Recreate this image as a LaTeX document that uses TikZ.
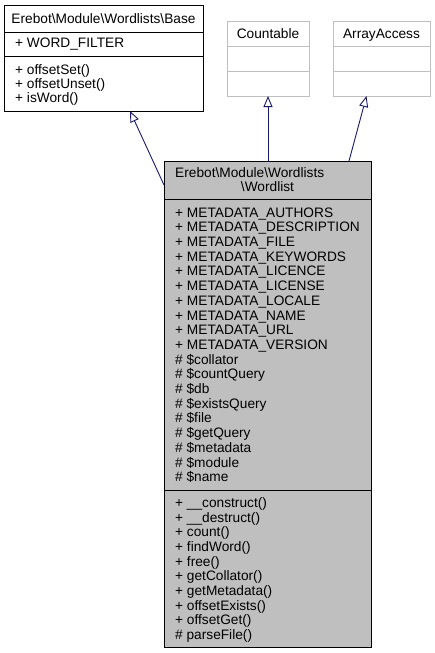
\documentclass[tikz,border=0pt]{standalone}
\usepackage{fontspec}
\setmainfont{Liberation Sans}
\usetikzlibrary{arrows.meta}
\definecolor{edgeblue}{HTML}{191970}
\definecolor{boxgrey}{HTML}{BFBFBF}
\definecolor{lightborder}{HTML}{BFBFBF}
\begin{document}
\begin{tikzpicture}[x=1pt,y=-1pt,
  cls/.style={draw=black, line width=1pt, fill=white, inner sep=0pt, outer sep=0pt, anchor=north west},
  iface/.style={cls, draw=lightborder},
  main/.style={cls, fill=boxgrey},
  sepline/.style={line width=1pt},
  txt/.style={anchor=base west, inner sep=0pt, font=\fontsize{13.7}{14.7}\selectfont},
  ctxt/.style={txt, anchor=base},
  inherit/.style={draw=edgeblue, line width=0.9pt, -{Triangle[open, fill=white, length=11pt, width=9pt]}}
]
\useasboundingbox (0,0) rectangle (435,653);

% Base
\node[cls, minimum width=199pt, minimum height=106pt] (base) at (4,5) {};
\draw[sepline] (4,32) -- (203,32);
\draw[sepline] (4,56) -- (203,56);
\node[ctxt] (bt) at (103.5,23.4) {Erebot\textbackslash Module\textbackslash Wordlists\textbackslash Base};
\node[txt] (ba) at (15,47.9) {+ WORD\_FILTER};
\foreach \t [count=\i] in {+ offsetSet(), + offsetUnset(), + isWord()}
  \node[txt] (bm\i) at (15,{69.5+(\i-1)*14+4.9}) {\t};

% Countable
\node[iface, minimum width=82pt, minimum height=75pt] (countable) at (227,21) {};
\draw[sepline, lightborder] (227,46) -- (309,46);
\draw[sepline, lightborder] (227,71) -- (309,71);
\node[ctxt] (ct) at (268,38.4) {Countable};

% ArrayAccess
\node[iface, minimum width=97pt, minimum height=75pt] (arrayaccess) at (333,21) {};
\draw[sepline, lightborder] (333,46) -- (430,46);
\draw[sepline, lightborder] (333,71) -- (430,71);
\node[ctxt] (at) at (381.5,38.4) {ArrayAccess};

% Wordlist
\node[main, minimum width=207pt, minimum height=486pt] (wl) at (164,161) {};
\draw[sepline] (164,199) -- (371,199);
\draw[sepline] (164,490) -- (371,490);
\node[txt] (wt1) at (175,177.9) {Erebot\textbackslash Module\textbackslash Wordlists};
\node[ctxt] (wt2) at (267.5,191.4) {\textbackslash Wordlist};
\foreach \t [count=\i] in {
  + METADATA\_AUTHORS, + METADATA\_DESCRIPTION, + METADATA\_FILE,
  + METADATA\_KEYWORDS, + METADATA\_LICENCE, + METADATA\_LICENSE,
  + METADATA\_LOCALE, + METADATA\_NAME, + METADATA\_URL,
  + METADATA\_VERSION, \# \$collator, \# \$countQuery, \# \$db,
  \# \$existsQuery, \# \$file, \# \$getQuery, \# \$metadata,
  \# \$module, \# \$name}
  \node[txt] (wa\i) at (175,{212.2+(\i-1)*14.7+4.9}) {\t};
\foreach \t [count=\i] in {
  + \_\_construct(), + \_\_destruct(), + count(), + findWord(),
  + free(), + getCollator(), + getMetadata(), + offsetExists(),
  + offsetGet(), \# parseFile()}
  \node[txt] (wm\i) at (175,{502.4+(\i-1)*14.7+4.9}) {\t};

% Inheritance connectors
\coordinate (baseTip) at (130,111);
\coordinate (wlLeft) at (164,185);
\coordinate (aaTip) at (366.5,96);
\coordinate (wlTopR) at (349,161);
\draw[inherit] (wlLeft) -- (baseTip);
\draw[inherit] (wl.north -| countable.south) -- (countable.south);
\draw[inherit] (wlTopR) -- (aaTip);
\end{tikzpicture}
\end{document}
